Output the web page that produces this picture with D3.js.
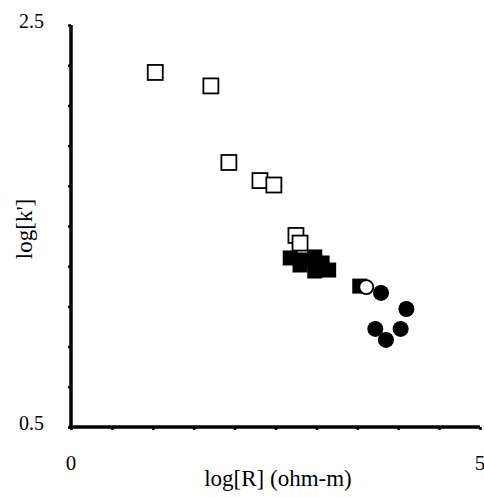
<!DOCTYPE html>
<html>
<head>
<meta charset="utf-8">
<script src="https://cdn.jsdelivr.net/npm/d3@7"></script>
<style>
  body { margin: 0; background: #fff; }
  text { font-family: "Liberation Serif", "Times New Roman", serif; fill: #000; }
</style>
</head>
<body>
<div id="chart"></div>
<script>
// values
var openSquares = [
  [1.03, 2.264], [1.71, 2.197], [1.93, 1.816], [2.31, 1.726],
  [2.48, 1.704], [2.75, 1.453], [2.80, 1.415]
];
var filledSquares = [
  [2.68, 1.341], [2.82, 1.331], [2.98, 1.346], [2.80, 1.306],
  [2.98, 1.276], [3.15, 1.281], [3.07, 1.316], [3.53, 1.201]
];
var openCircles = [[3.61, 1.196]];
var filledCircles = [
  [3.79, 1.167], [4.10, 1.087], [3.72, 0.988], [3.85, 0.933], [4.03, 0.988]
];
var xTicks = d3.range(0, 5.01, 0.5);
var yTicks = d3.range(0.5, 2.51, 0.2);
var xLabels = [0, 5];
var yLabels = [0.5, 2.5];

var width = 484, height = 497;
var svg = d3.select("#chart")
  .append("svg")
  .attr("width", width)
  .attr("height", height);

var x = d3.scaleLinear().domain([0, 5]).range([71, 480]);
var y = d3.scaleLinear().domain([0.5, 2.5]).range([427, 25]);

// axes: thick lines, tiny tick marks, labels only at the ends
var xAxis = d3.axisBottom(x).tickValues(xTicks).tickSize(3).tickFormat("");
var yAxis = d3.axisLeft(y).tickValues(yTicks).tickSize(3).tickFormat("");

svg.append("g")
  .attr("transform", "translate(0," + y(0.5) + ")")
  .call(xAxis)
  .call(function (g) {
    g.select(".domain").attr("stroke-width", 3.5).attr("d", "M" + (x(0) - 1.5) + ",0H" + x(5));
    g.selectAll(".tick line").attr("stroke-width", 2.5);
  });

svg.append("g")
  .attr("transform", "translate(" + x(0) + ",0)")
  .call(yAxis)
  .call(function (g) {
    g.select(".domain").attr("stroke-width", 3.5).attr("d", "M0," + y(2.5) + "V" + (y(0.5) + 1.5));
    g.selectAll(".tick line").attr("stroke-width", 2.5);
  });

svg.selectAll(".xlab")
  .data(xLabels)
  .enter()
  .append("text")
  .attr("class", "xlab")
  .attr("x", function (d) { return x(d); })
  .attr("y", 470)
  .attr("text-anchor", "middle")
  .style("font-size", "21px")
  .text(function (d) { return d; });

svg.selectAll(".ylab")
  .data(yLabels)
  .enter()
  .append("text")
  .attr("class", "ylab")
  .attr("x", 44)
  .attr("y", function (d) { return d == 2.5 ? 28 : y(d) + 3; })
  .attr("text-anchor", "end")
  .style("font-size", "20px")
  .text(function (d) { return d.toFixed(1); });

svg.append("text")
  .attr("x", 278)
  .attr("y", 486)
  .attr("text-anchor", "middle")
  .style("font-size", "23px")
  .text("log[R] (ohm-m)");

svg.append("text")
  .attr("transform", "translate(32,229) rotate(-90)")
  .attr("text-anchor", "middle")
  .style("font-size", "23px")
  .text("log[k']");

var s = 15;
var marks = svg.append("g");

marks.selectAll(".fsq")
  .data(filledSquares)
  .enter()
  .append("rect")
  .attr("class", "fsq")
  .attr("x", function (d) { return x(d[0]) - s / 2; })
  .attr("y", function (d) { return y(d[1]) - s / 2; })
  .attr("width", s)
  .attr("height", s)
  .attr("fill", "#000");

marks.selectAll(".osq")
  .data(openSquares)
  .enter()
  .append("rect")
  .attr("class", "osq")
  .attr("x", function (d) { return x(d[0]) - s / 2; })
  .attr("y", function (d) { return y(d[1]) - s / 2; })
  .attr("width", s)
  .attr("height", s)
  .attr("fill", "#fff")
  .attr("stroke", "#000")
  .attr("stroke-width", 1.8);

marks.selectAll(".ocir")
  .data(openCircles)
  .enter()
  .append("circle")
  .attr("class", "ocir")
  .attr("cx", function (d) { return x(d[0]); })
  .attr("cy", function (d) { return y(d[1]); })
  .attr("r", 7)
  .attr("fill", "#fff")
  .attr("stroke", "#000")
  .attr("stroke-width", 1.8);

marks.selectAll(".fcir")
  .data(filledCircles)
  .enter()
  .append("circle")
  .attr("class", "fcir")
  .attr("cx", function (d) { return x(d[0]); })
  .attr("cy", function (d) { return y(d[1]); })
  .attr("r", 8)
  .attr("fill", "#000");
</script>
</body>
</html>
